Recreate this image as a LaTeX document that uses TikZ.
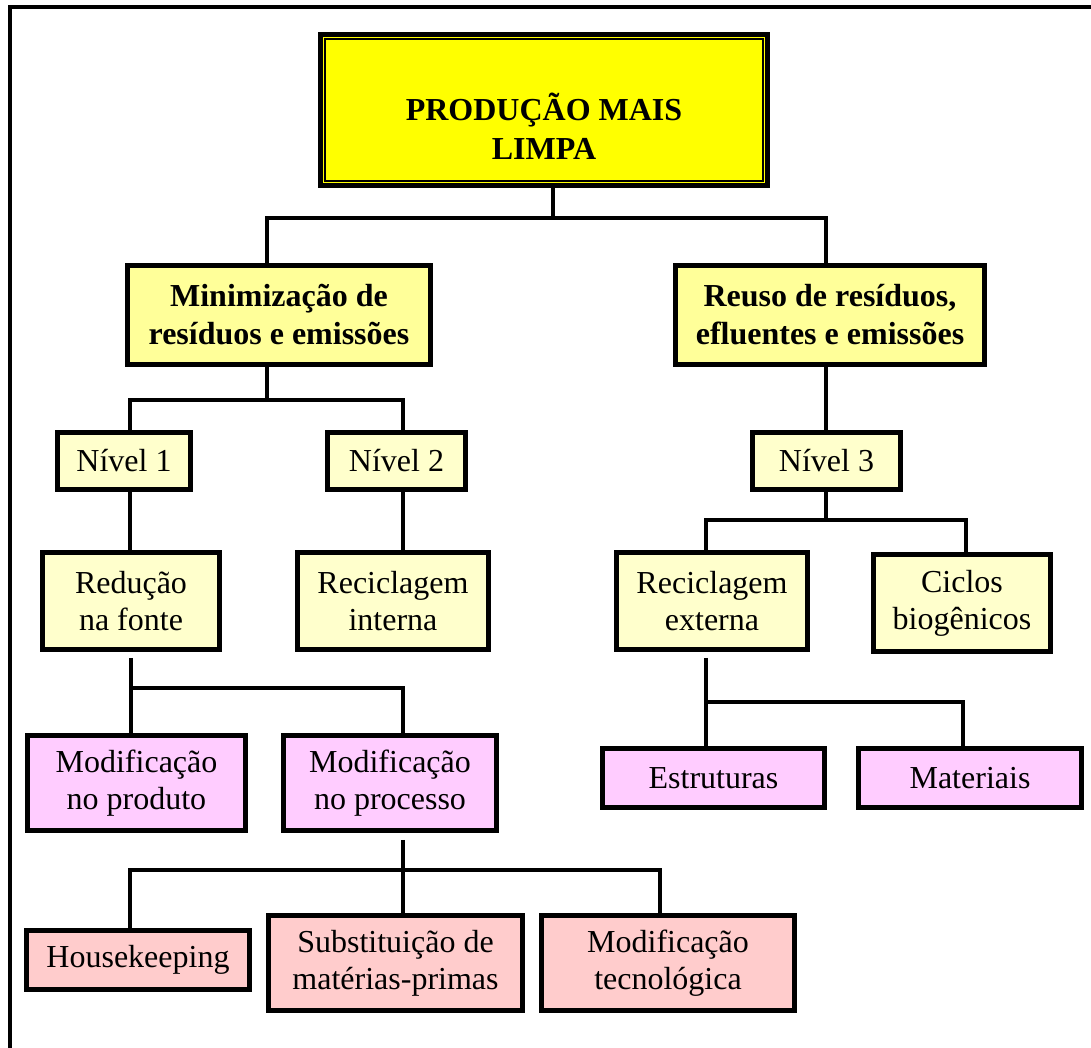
\documentclass[tikz,border=0pt]{standalone}
\usepackage{fontspec}
\setmainfont{Liberation Serif}
\definecolor{topyel}{HTML}{FFFF00}
\definecolor{midyel}{HTML}{FFFF99}
\definecolor{lightyel}{HTML}{FFFFCC}
\definecolor{lilac}{HTML}{FFCCFF}
\definecolor{salmon}{HTML}{FFCCCC}
\tikzset{
  box/.style={draw=black, line width=4.5pt, rectangle, inner sep=0pt, align=center,
    font=\fontsize{32}{37}\selectfont},
  mainbox/.style={box, fill=midyel, font=\fontsize{32}{38}\selectfont\bfseries},
  levelbox/.style={box, fill=lightyel},
  pinkbox/.style={box, fill=lilac},
  salmonbox/.style={box, fill=salmon},
  conn/.style={draw=black, line width=4pt, line join=miter},
}
\begin{document}
\begin{tikzpicture}[x=1pt,y=-1pt]
\useasboundingbox (0,0) rectangle (1091,1048);
% outer frame (only top and left visible)
\draw[line width=4pt] (9.5,1048) -- (9.5,7) -- (1091,7);

% top box
\node[box, fill=topyel, line width=5.5pt, minimum width=447, minimum height=151] (top) at (544,110) {};
\draw[line width=1.8pt] ([xshift=7.2pt,yshift=-7.2pt]top.north west) rectangle ([xshift=-7.2pt,yshift=7.2pt]top.south east);
\node[align=center, inner sep=0pt, font=\fontsize{32}{39}\selectfont\bfseries] (toptext) at ([yshift=-16pt]top.center) {PRODUÇÃO MAIS\\LIMPA};

% level 1
\node[mainbox, minimum width=303, minimum height=99] (min) at (279,315) {Minimização de\\resíduos e emissões};
\node[mainbox, minimum width=309, minimum height=99] (reu) at (830,315) {Reuso de resíduos,\\efluentes e emissões};

% levels
\node[levelbox, minimum width=133, minimum height=57] (n1) at (124,461) {Nível 1};
\node[levelbox, minimum width=138, minimum height=57] (n2) at (396.5,461) {Nível 2};
\node[levelbox, minimum width=148, minimum height=57] (n3) at (826.5,461) {Nível 3};

% strategies
\node[levelbox, minimum width=177, minimum height=97] (red) at (131,601) {Redução\\na fonte};
\node[levelbox, minimum width=191, minimum height=97] (rint) at (393,601) {Reciclagem\\interna};
\node[levelbox, minimum width=191, minimum height=97] (rext) at (712,601) {Reciclagem\\externa};
\node[levelbox, minimum width=177, minimum height=97] (cic) at (962,603) {Ciclos\\biogênicos};

% pink
\node[pinkbox, minimum width=218, minimum height=95] (mprod) at (136.5,783) {Modificação\\no produto};
\node[pinkbox, minimum width=213, minimum height=95] (mproc) at (390,783) {Modificação\\no processo};
\node[pinkbox, minimum width=222, minimum height=59] (est) at (713.5,778) {Estruturas};
\node[pinkbox, minimum width=223, minimum height=59] (mat) at (970,778) {Materiais};

% salmon
\node[salmonbox, minimum width=223, minimum height=59] (hk) at (138,960) {Housekeeping};
\node[salmonbox, minimum width=254, minimum height=95] (sub) at (395.5,963) {Substituição de\\matérias-primas};
\node[salmonbox, minimum width=253, minimum height=95] (mtec) at (668,963) {Modificação\\tecnológica};

% connectors
\draw[conn] ([xshift=9pt]top.south) -- ++(0,30) coordinate (j1);
\draw[conn] ([xshift=-12pt]min.north) |- (j1) -| ([xshift=-4pt]reu.north);

\draw[conn] ([xshift=-12pt]min.south) -- ++(0,33) coordinate (j2);
\draw[conn] ([xshift=6pt]n1.north) |- (j2) -| ([xshift=6.5pt]n2.north);

\draw[conn] ([xshift=-4pt]reu.south) -- ([xshift=-0.5pt]n3.north);

\draw[conn] ([xshift=6pt]n1.south) -- ([xshift=-1pt]red.north);
\draw[conn] ([xshift=6.5pt]n2.south) -- ([xshift=10pt]rint.north);

\draw[conn] ([xshift=-0.5pt]n3.south) -- ++(0,28) coordinate (j3);
\draw[conn] ([xshift=-6pt]rext.north) |- (j3) -| ([xshift=4pt]cic.north);

\draw[conn] ([yshift=-6pt]red.south) -- ++(0,30) coordinate (j4);
\draw[conn] ([xshift=-5.5pt]mprod.north) |- (j4) -| ([xshift=13pt]mproc.north);

\draw[conn] ([xshift=-6pt,yshift=-6pt]rext.south) -- ++(0,44) coordinate (j5);
\draw[conn] ([xshift=-7.5pt]est.north) |- (j5) -| ([xshift=-7pt]mat.north);

\draw[conn] ([xshift=13pt,yshift=-7pt]mproc.south) -- ([xshift=7.5pt]sub.north);
\coordinate (j6) at ([xshift=13pt,yshift=-37pt]mproc.south);
\draw[conn] ([xshift=-8pt]hk.north) |- (j6) -| ([xshift=-8pt]mtec.north);
\end{tikzpicture}
\end{document}
